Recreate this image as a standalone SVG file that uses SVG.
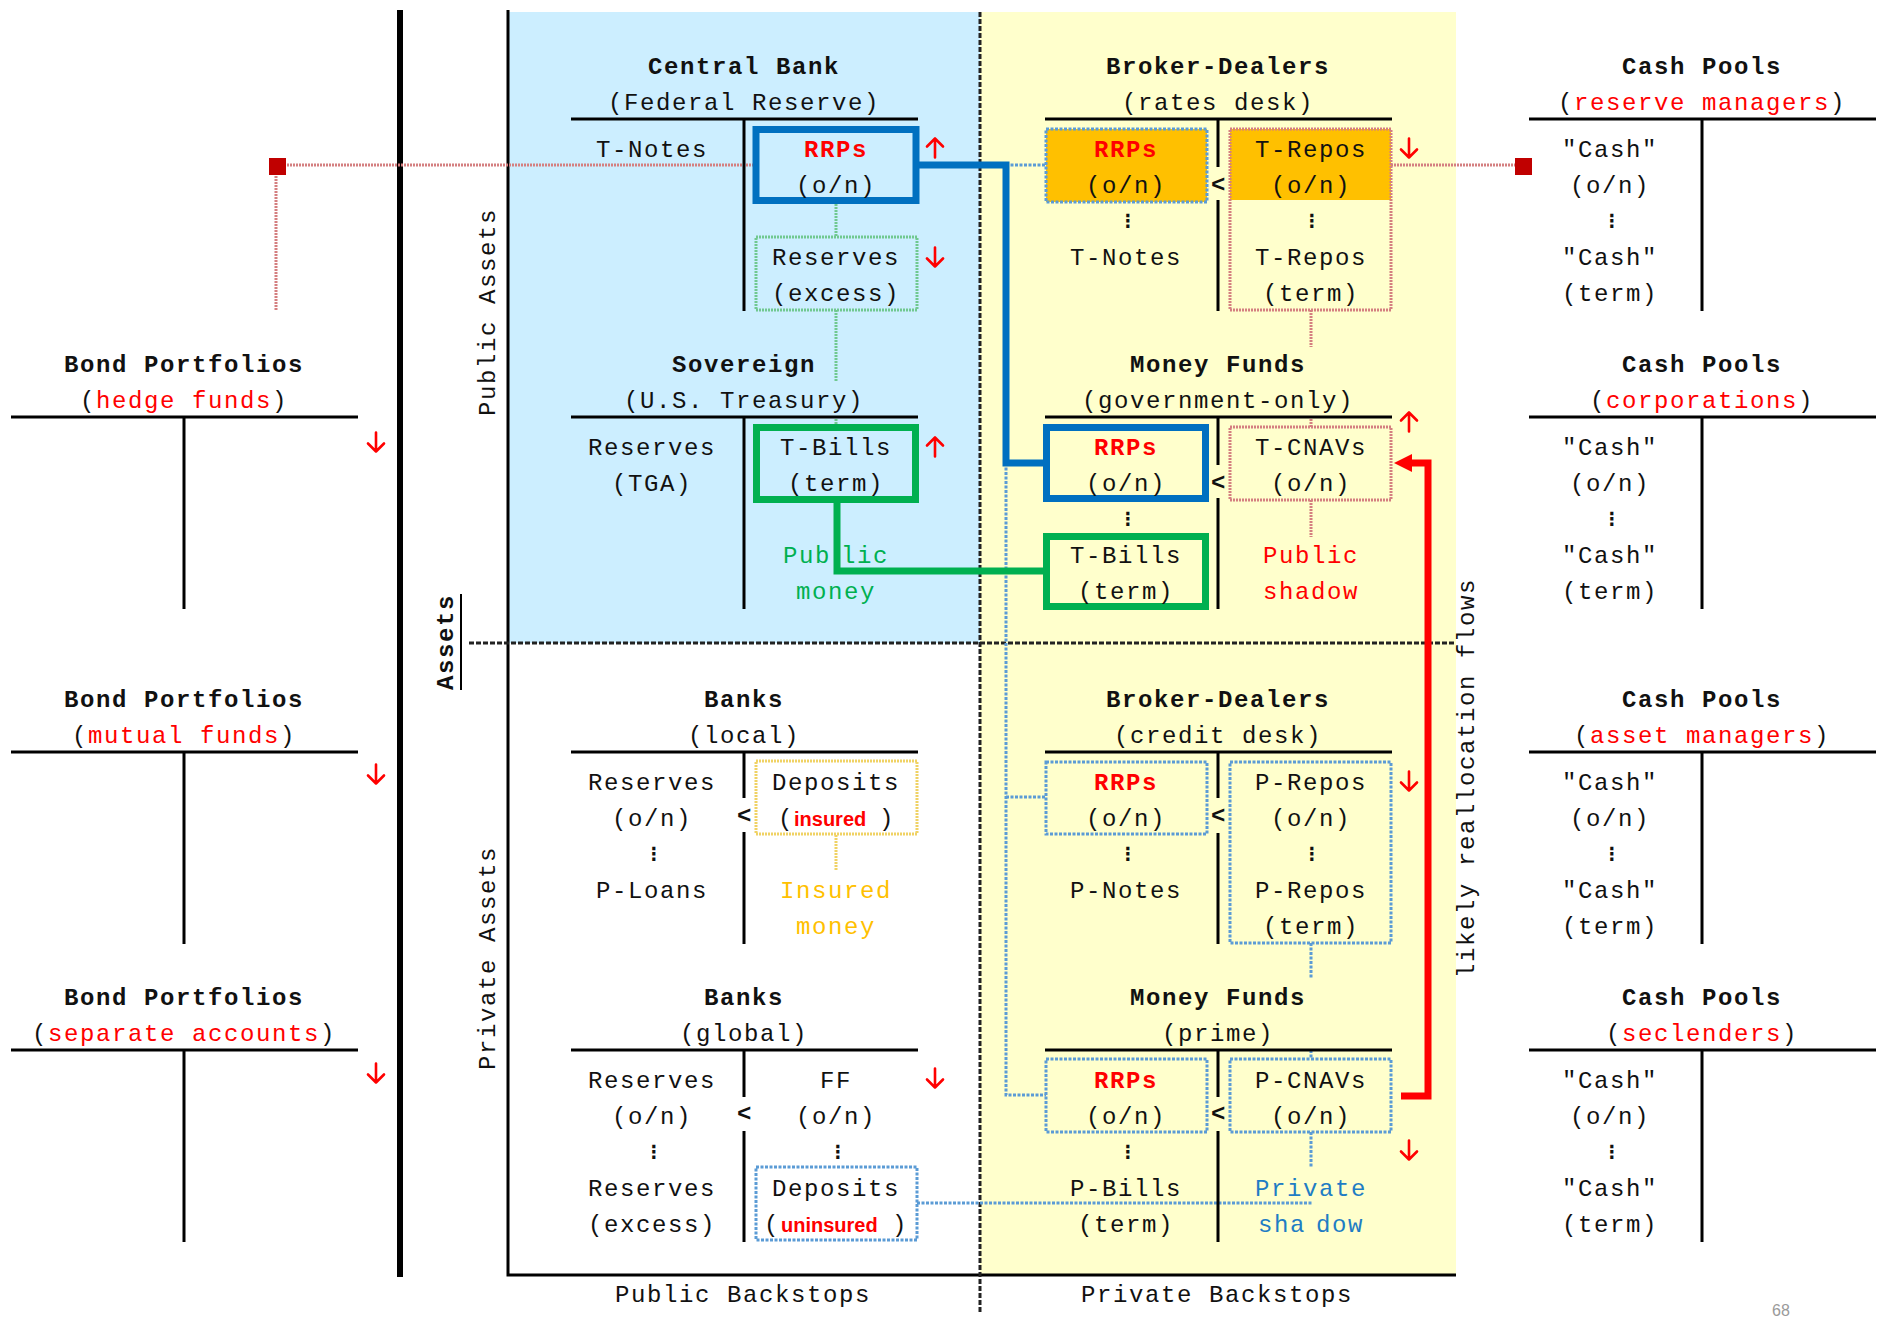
<svg xmlns="http://www.w3.org/2000/svg" xmlns:xlink="http://www.w3.org/1999/xlink" width="1883" height="1318" viewBox="0 0 1883 1318">
<style>
text{font-family:"Liberation Mono","Courier New",monospace;font-size:24px;letter-spacing:1.6px;text-anchor:middle;fill:#111}
.b{font-weight:bold}
.red{fill:#ff0000}
.grn{fill:#00b050}
.org{fill:#ffc000}
.blu{fill:#1f7dc4}
.dots{font-family:"DejaVu Sans",sans-serif;font-size:18px;letter-spacing:0;font-weight:bold}
.ins{font-family:"Liberation Sans",Arial,sans-serif;font-size:20px;letter-spacing:0;font-weight:bold;fill:#ff0000}
.st{text-anchor:start;letter-spacing:0}
.tl{stroke:#000;stroke-width:3;fill:none}
.tb{fill:none;stroke:#0070c0;stroke-width:7}
.tg{fill:none;stroke:#00b050;stroke-width:7}
.dblu{fill:none;stroke:#5b9bd5;stroke-width:3;stroke-dasharray:3 1.5}
.dred{fill:none;stroke:#d47f80;stroke-width:3;stroke-dasharray:2 1}
.dgrn{fill:none;stroke:#70c890;stroke-width:3;stroke-dasharray:2 1}
.dyel{fill:none;stroke:#f0d264;stroke-width:3;stroke-dasharray:2 1}
.div{stroke:#222;stroke-width:3;stroke-dasharray:5 2;fill:none}
.ar{fill:none;stroke:#ff0000;stroke-width:2.6;stroke-linecap:round;stroke-linejoin:round}
</style>
<defs>
<marker id="redhead" markerUnits="userSpaceOnUse" markerWidth="18" markerHeight="18" viewBox="0 0 18 18" refX="0" refY="9" orient="auto">
<path d="M0,0 L18,9 L0,18 z" fill="#ff0000"/>
</marker>
<path id="up" class="ar" d="M0,9.5V-9.5M-8,-1.5L0,-9.5L8,-1.5"/>
<path id="down" class="ar" d="M0,-9.5V9.5M-8,1.5L0,9.5L8,1.5"/>
</defs>

<g id="background">
<rect x="980" y="12" width="476" height="1263" fill="#ffffcc"/>
<rect x="508" y="12" width="472" height="631" fill="#cceeff"/>
<line x1="400" y1="10" x2="400" y2="1277" stroke="#000" stroke-width="6"/>
<path d="M508 10V1275H1456" stroke="#000" stroke-width="3" fill="none"/>
<line class="div" x1="980" y1="12" x2="980" y2="1312"/>
<line class="div" x1="469" y1="643" x2="1456" y2="643"/>
<line x1="461" y1="594" x2="461" y2="690" stroke="#000" stroke-width="2"/>
<text class="b" transform="translate(453,642) rotate(-90)">Assets</text>
<text transform="translate(495,312) rotate(-90)">Public Assets</text>
<text transform="translate(495,958) rotate(-90)">Private Assets</text>
<text transform="translate(1474,778) rotate(-90)">likely reallocation flows</text>
<text x="743" y="1302">Public Backstops</text>
<text x="1217" y="1302">Private Backstops</text>
<text x="1781" y="1316" style="font-family:'Liberation Sans',Arial,sans-serif;font-size:16px;letter-spacing:0;fill:#9a9a9a">68</text>
</g>

<g id="connectors">
<path class="dred" d="M276 310V165H753"/>
<path class="dred" d="M1391 165H1515"/>
<rect x="269" y="158" width="17" height="17" fill="#c00000"/>
<rect x="1515" y="158" width="17" height="17" fill="#c00000"/>
<path class="dgrn" d="M836 204V237M836 310V382M836 419V424"/>
<path class="dred" d="M1311 310V347M1311 419V427M1311 500V537"/>
<path class="dyel" d="M836 835V870"/>
<path class="dblu" d="M1311 943V978M1311 1050V1059M1311 1132V1168"/>
<path class="dblu" d="M917 1203H1312"/>
<path class="dblu" d="M1006 165H1046M1006 463V1095H1046M1006 797H1046"/>
<path class="tb" d="M919 165H1006V463H1043"/>
<path class="tg" d="M837 503V571H1043"/>
<path d="M1401 1096H1428V463H1412" fill="none" stroke="#ff0000" stroke-width="7" marker-end="url(#redhead)"/>
</g>

<g id="central-bank">
<text class="b" x="744" y="74">Central Bank</text>
<text x="744" y="110">(Federal Reserve)</text>
<path class="tl" d="M571 119H918M744 119V311"/>
<text x="652" y="157">T-Notes</text>
<rect class="tb" x="756" y="129.5" width="160" height="71"/>
<text class="b red" x="836" y="157">RRPs</text>
<text x="836" y="193">(o/n)</text>
<rect class="dgrn" x="756" y="237" width="161" height="73"/>
<text x="836" y="265">Reserves</text>
<text x="836" y="301">(excess)</text>
<use xlink:href="#up" href="#up" x="935" y="148"/>
<use xlink:href="#down" href="#down" x="935" y="257"/>
</g>

<g id="sovereign">
<text class="b" x="744" y="372">Sovereign</text>
<text x="744" y="408">(U.S. Treasury)</text>
<path class="tl" d="M571 417H918M744 417V609"/>
<text x="652" y="455">Reserves</text>
<text x="652" y="491">(TGA)</text>
<rect class="tg" x="756.5" y="427.5" width="159" height="72"/>
<text x="836" y="455">T-Bills</text>
<text x="836" y="491">(term)</text>
<text class="grn" x="836" y="563">Pub<tspan dx="10">lic</tspan></text>
<text class="grn" x="836" y="599">money</text>
<use xlink:href="#up" href="#up" x="935" y="447"/>
</g>

<g id="broker-dealers-rates">
<text class="b" x="1218" y="74">Broker-Dealers</text>
<text x="1218" y="110">(rates desk)</text>
<path class="tl" d="M1045 119H1392M1218 119V167M1218 200V311"/>
<rect x="1046" y="129" width="161" height="73" fill="#ffc000"/>
<rect class="dblu" x="1046" y="129" width="161" height="73"/>
<text class="b red" x="1126" y="157">RRPs</text>
<text x="1126" y="193">(o/n)</text>
<text class="dots" x="1128" y="227">⋮</text>
<text x="1126" y="265">T-Notes</text>
<rect x="1230" y="129" width="161" height="71" fill="#ffc000"/>
<rect class="dred" x="1230" y="129" width="161" height="181"/>
<text x="1311" y="157">T-Repos</text>
<text x="1311" y="193">(o/n)</text>
<text class="dots" x="1312" y="227">⋮</text>
<text x="1311" y="265">T-Repos</text>
<text x="1311" y="301">(term)</text>
<text class="b" x="1219" y="192">&lt;</text>
<use xlink:href="#down" href="#down" x="1409" y="148"/>
</g>

<g id="money-funds-government">
<text class="b" x="1218" y="372">Money Funds</text>
<text x="1218" y="408">(government-only)</text>
<path class="tl" d="M1045 417H1392M1218 417V465M1218 498V609"/>
<rect class="tb" x="1046.5" y="427.5" width="159" height="71"/>
<text class="b red" x="1126" y="455">RRPs</text>
<text x="1126" y="491">(o/n)</text>
<text class="dots" x="1128" y="525">⋮</text>
<rect class="tg" x="1046.5" y="536.5" width="159" height="70"/>
<text x="1126" y="563">T-Bills</text>
<text x="1126" y="599">(term)</text>
<rect class="dred" x="1230" y="427" width="161" height="73"/>
<text x="1311" y="455">T-CNAVs</text>
<text x="1311" y="491">(o/n)</text>
<text class="red" x="1311" y="563">Public</text>
<text class="red" x="1311" y="599">shadow</text>
<text class="b" x="1219" y="490">&lt;</text>
<use xlink:href="#up" href="#up" x="1409" y="422"/>
</g>

<g id="banks-local">
<text class="b" x="744" y="707">Banks</text>
<text x="744" y="743">(local)</text>
<path class="tl" d="M571 752H918M744 752V798M744 832V944"/>
<text x="652" y="790">Reserves</text>
<text x="652" y="826">(o/n)</text>
<text class="dots" x="654" y="860">⋮</text>
<text x="652" y="898">P-Loans</text>
<rect class="dyel" x="756" y="761" width="161" height="73"/>
<text x="836" y="790">Deposits</text>
<text class="st" y="826"><tspan x="778">(</tspan><tspan class="ins" x="794">insured</tspan><tspan x="879">)</tspan></text>
<text class="org" x="836" y="898">Insured</text>
<text class="org" x="836" y="934">money</text>
<text class="b" x="745" y="823">&lt;</text>
</g>

<g id="banks-global">
<text class="b" x="744" y="1005">Banks</text>
<text x="744" y="1041">(global)</text>
<path class="tl" d="M571 1050H918M744 1050V1097M744 1131V1242"/>
<text x="652" y="1088">Reserves</text>
<text x="652" y="1124">(o/n)</text>
<text class="dots" x="654" y="1158">⋮</text>
<text x="652" y="1196">Reserves</text>
<text x="652" y="1232">(excess)</text>
<text x="836" y="1088">FF</text>
<text x="836" y="1124">(o/n)</text>
<text class="dots" x="838" y="1158">⋮</text>
<rect class="dblu" x="756" y="1167" width="161" height="73"/>
<text x="836" y="1196">Deposits</text>
<text class="st" y="1232"><tspan x="764">(</tspan><tspan class="ins" x="781">uninsured</tspan><tspan x="892">)</tspan></text>
<text class="b" x="745" y="1121">&lt;</text>
<use xlink:href="#down" href="#down" x="935" y="1078"/>
</g>

<g id="broker-dealers-credit">
<text class="b" x="1218" y="707">Broker-Dealers</text>
<text x="1218" y="743">(credit desk)</text>
<path class="tl" d="M1045 752H1392M1218 752V798M1218 833V944"/>
<rect class="dblu" x="1046" y="762" width="161" height="72"/>
<text class="b red" x="1126" y="790">RRPs</text>
<text x="1126" y="826">(o/n)</text>
<text class="dots" x="1128" y="860">⋮</text>
<text x="1126" y="898">P-Notes</text>
<rect class="dblu" x="1230" y="762" width="161" height="181"/>
<text x="1311" y="790">P-Repos</text>
<text x="1311" y="826">(o/n)</text>
<text class="dots" x="1312" y="860">⋮</text>
<text x="1311" y="898">P-Repos</text>
<text x="1311" y="934">(term)</text>
<text class="b" x="1219" y="823">&lt;</text>
<use xlink:href="#down" href="#down" x="1409" y="781"/>
</g>

<g id="money-funds-prime">
<text class="b" x="1218" y="1005">Money Funds</text>
<text x="1218" y="1041">(prime)</text>
<path class="tl" d="M1045 1050H1392M1218 1050V1097M1218 1131V1242"/>
<rect class="dblu" x="1046" y="1059" width="161" height="73"/>
<text class="b red" x="1126" y="1088">RRPs</text>
<text x="1126" y="1124">(o/n)</text>
<text class="dots" x="1128" y="1158">⋮</text>
<text x="1126" y="1196">P-Bills</text>
<text x="1126" y="1232">(term)</text>
<rect class="dblu" x="1230" y="1059" width="161" height="73"/>
<text x="1311" y="1088">P-CNAVs</text>
<text x="1311" y="1124">(o/n)</text>
<text class="blu" x="1311" y="1196">Private</text>
<text class="blu" x="1311" y="1232">sha<tspan dx="10">dow</tspan></text>
<text class="b" x="1219" y="1121">&lt;</text>
<use xlink:href="#down" href="#down" x="1409" y="1150"/>
</g>

<g id="cash-pools-reserve-managers">
<text class="b" x="1702" y="74">Cash Pools</text>
<text x="1702" y="110">(<tspan class="red">reserve managers</tspan>)</text>
<path class="tl" d="M1529 119H1876M1702 119V311"/>
<text x="1610" y="157">"Cash"</text>
<text x="1610" y="193">(o/n)</text>
<text class="dots" x="1612" y="227">⋮</text>
<text x="1610" y="265">"Cash"</text>
<text x="1610" y="301">(term)</text>
</g>

<g id="cash-pools-corporations">
<text class="b" x="1702" y="372">Cash Pools</text>
<text x="1702" y="408">(<tspan class="red">corporations</tspan>)</text>
<path class="tl" d="M1529 417H1876M1702 417V609"/>
<text x="1610" y="455">"Cash"</text>
<text x="1610" y="491">(o/n)</text>
<text class="dots" x="1612" y="525">⋮</text>
<text x="1610" y="563">"Cash"</text>
<text x="1610" y="599">(term)</text>
</g>

<g id="cash-pools-asset-managers">
<text class="b" x="1702" y="707">Cash Pools</text>
<text x="1702" y="743">(<tspan class="red">asset managers</tspan>)</text>
<path class="tl" d="M1529 752H1876M1702 752V944"/>
<text x="1610" y="790">"Cash"</text>
<text x="1610" y="826">(o/n)</text>
<text class="dots" x="1612" y="860">⋮</text>
<text x="1610" y="898">"Cash"</text>
<text x="1610" y="934">(term)</text>
</g>

<g id="cash-pools-seclenders">
<text class="b" x="1702" y="1005">Cash Pools</text>
<text x="1702" y="1041">(<tspan class="red">seclenders</tspan>)</text>
<path class="tl" d="M1529 1050H1876M1702 1050V1242"/>
<text x="1610" y="1088">"Cash"</text>
<text x="1610" y="1124">(o/n)</text>
<text class="dots" x="1612" y="1158">⋮</text>
<text x="1610" y="1196">"Cash"</text>
<text x="1610" y="1232">(term)</text>
</g>

<g id="bond-portfolios-hedge-funds">
<text class="b" x="184" y="372">Bond Portfolios</text>
<text x="184" y="408">(<tspan class="red">hedge funds</tspan>)</text>
<path class="tl" d="M11 417H358M184 417V609"/>
<use xlink:href="#down" href="#down" x="376" y="442"/>
</g>

<g id="bond-portfolios-mutual-funds">
<text class="b" x="184" y="707">Bond Portfolios</text>
<text x="184" y="743">(<tspan class="red">mutual funds</tspan>)</text>
<path class="tl" d="M11 752H358M184 752V944"/>
<use xlink:href="#down" href="#down" x="376" y="774"/>
</g>

<g id="bond-portfolios-separate-accounts">
<text class="b" x="184" y="1005">Bond Portfolios</text>
<text x="184" y="1041">(<tspan class="red">separate accounts</tspan>)</text>
<path class="tl" d="M11 1050H358M184 1050V1242"/>
<use xlink:href="#down" href="#down" x="376" y="1073"/>
</g>
</svg>
